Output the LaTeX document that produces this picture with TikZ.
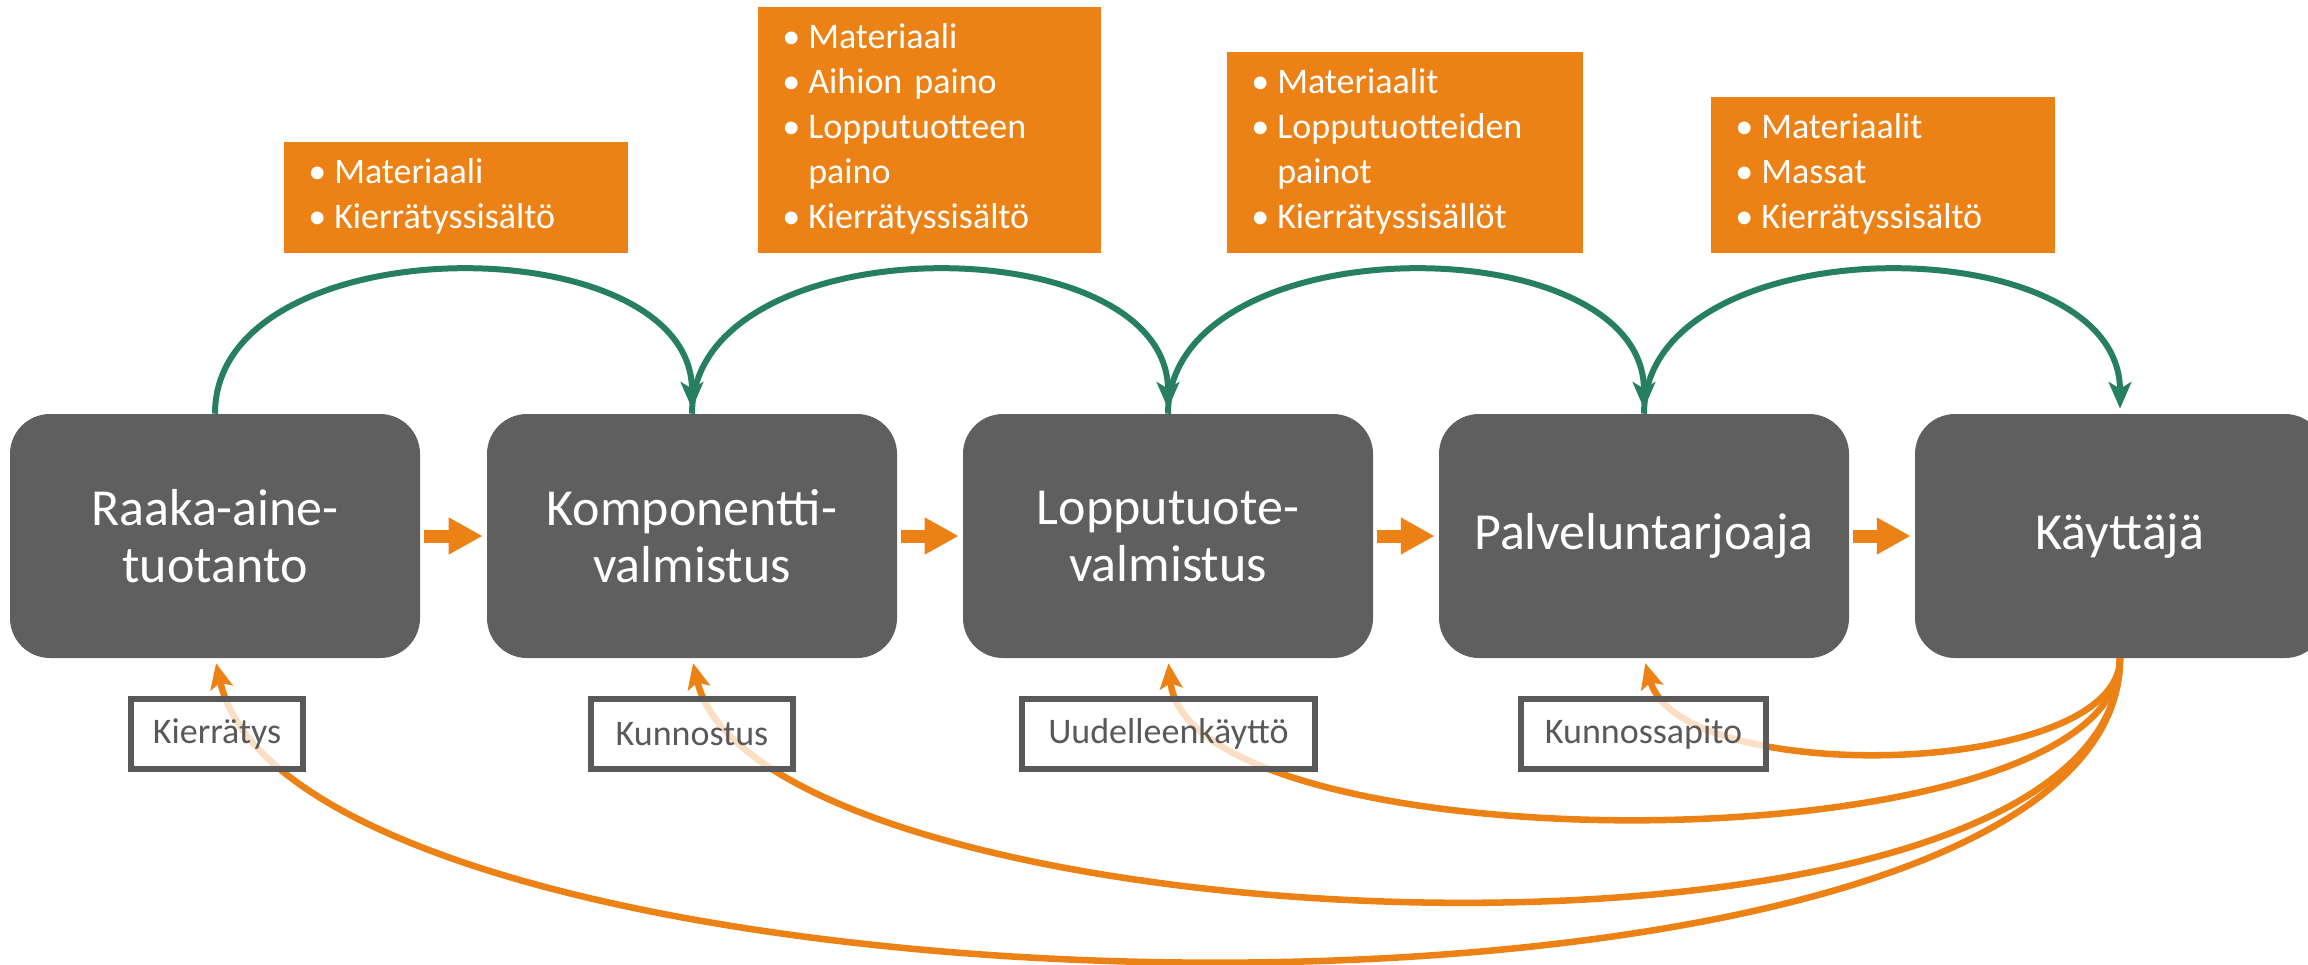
\documentclass[tikz,border=0pt]{standalone}
\usepackage{fontspec}
\setmainfont{Carlito}
\usetikzlibrary{arrows.meta}

\definecolor{boxgray}{RGB}{95,95,95}
\definecolor{labelgray}{RGB}{89,89,89}
\definecolor{chainorange}{RGB}{236,130,22}
\definecolor{arcgreen}{RGB}{38,128,96}

\newcommand{\bul}{\strut\makebox[19.5pt][l]{\textbullet}}
\newcommand{\cont}{\strut\hspace*{19.5pt}}

\begin{document}
\begin{tikzpicture}[x=0.75pt,y=0.75pt,yscale=-1,xscale=1,
    stagebox/.style={fill=boxgray, rounded corners=30pt, minimum width=307.5pt, minimum height=183pt, inner sep=0pt, text=white, align=center, font=\fontsize{39}{42.75}\selectfont},
    infobox/.style={fill=chainorange, anchor=south west, inner xsep=18pt, inner ysep=7.9pt, text=white, align=left, font=\fontsize{27}{33.75}\selectfont},
    tagbox/.style={draw=labelgray, line width=4.5pt, fill=white, fill opacity=0.75, draw opacity=1, text opacity=1, text=labelgray, minimum height=52.5pt, inner sep=0pt, font=\fontsize{27}{32}\selectfont},
    flowarrow/.style={draw=chainorange, line width=9.75pt, -{Triangle[length=25.5pt,width=26pt]}},
    supplyarc/.style={draw=arcgreen, line width=4.5pt, -{Stealth[length=20pt,width=17pt,inset=5pt]}, shorten >=3.75pt},
    returnarc/.style={draw=chainorange, line width=4.9pt, -{Stealth[length=19pt,width=17pt,inset=4pt]}, shorten >=3.75pt}
  ]
  \path[use as bounding box, clip] (0,0) rectangle (2308,964);

  %Shape: Rounded Rect (stages)
  \node[stagebox] (raaka) at (215,536) {Raaka-aine-\\tuotanto};
  \node[stagebox] (komp) at (692,536) {Komponentti-\\valmistus};
  \node[stagebox] (loppu) at (1168,536) {Lopputuote-\\valmistus};
  \node[stagebox] (palvelu) at (1644,536) {Palveluntarjoaja};
  \node[stagebox] (kayttaja) at (2120,536) {Käyttäjä};

  %Straight Lines
  \draw[flowarrow] ([xshift=3pt]raaka.east) -- ([xshift=-3pt]komp.west);
  \draw[flowarrow] ([xshift=3pt]komp.east) -- ([xshift=-3pt]loppu.west);
  \draw[flowarrow] ([xshift=3pt]loppu.east) -- ([xshift=-3pt]palvelu.west);
  \draw[flowarrow] ([xshift=3pt]palvelu.east) -- ([xshift=-3pt]kayttaja.west);

  %Curve Lines (material data)
  \draw[supplyarc] (raaka.north) .. controls +(0,-190) and +(0,-190) .. (komp.north);
  \draw[supplyarc] (komp.north) .. controls +(0,-190) and +(0,-190) .. (loppu.north);
  \draw[supplyarc] (loppu.north) .. controls +(0,-190) and +(0,-190) .. (palvelu.north);
  \draw[supplyarc] (palvelu.north) .. controls +(0,-190) and +(0,-190) .. (kayttaja.north);

  %Curve Lines (return loops)
  \draw[returnarc] (kayttaja.south) .. controls +(0,120) and +(36,130) .. (palvelu.south);
  \draw[returnarc] (kayttaja.south) .. controls +(0,212) and +(22,212) .. (loppu.south);
  \draw[returnarc] (kayttaja.south) .. controls +(0,352) and +(68,292) .. (komp.south);
  \draw[returnarc] (kayttaja.south) .. controls +(0,422) and +(85,382) .. (raaka.south);

  % Text Node
  \node[tagbox, minimum width=129pt] (kierratys) at (217,734) {Kierrätys};
  \node[tagbox, minimum width=151.5pt] (kunnostus) at (692,734) {Kunnostus};
  \node[tagbox, minimum width=219.75pt] (uudelleen) at (1168.5,734) {Uudelleenkäyttö};
  \node[tagbox, minimum width=183.75pt] (kunnossapito) at (1643.5,734) {Kunnossapito};

  % Text Node
  \node[infobox, text width=222pt] (infoRaaka) at (284,253) {\bul Materiaali\\ \bul Kierrätyssisältö};
  \node[infobox, text width=221pt] (infoKomp) at (758,253) {\bul Materiaali\\ \bul Aihion paino\\ \bul Lopputuotteen\\ \cont paino\\ \bul Kierrätyssisältö};
  \node[infobox, text width=231pt] (infoLoppu) at (1227,253) {\bul Materiaalit\\ \bul Lopputuotteiden\\ \cont painot\\ \bul Kierrätyssisällöt};
  \node[infobox, text width=222pt] (infoPalvelu) at (1711,253) {\bul Materiaalit\\ \bul Massat\\ \bul Kierrätyssisältö};
\end{tikzpicture}
\end{document}
